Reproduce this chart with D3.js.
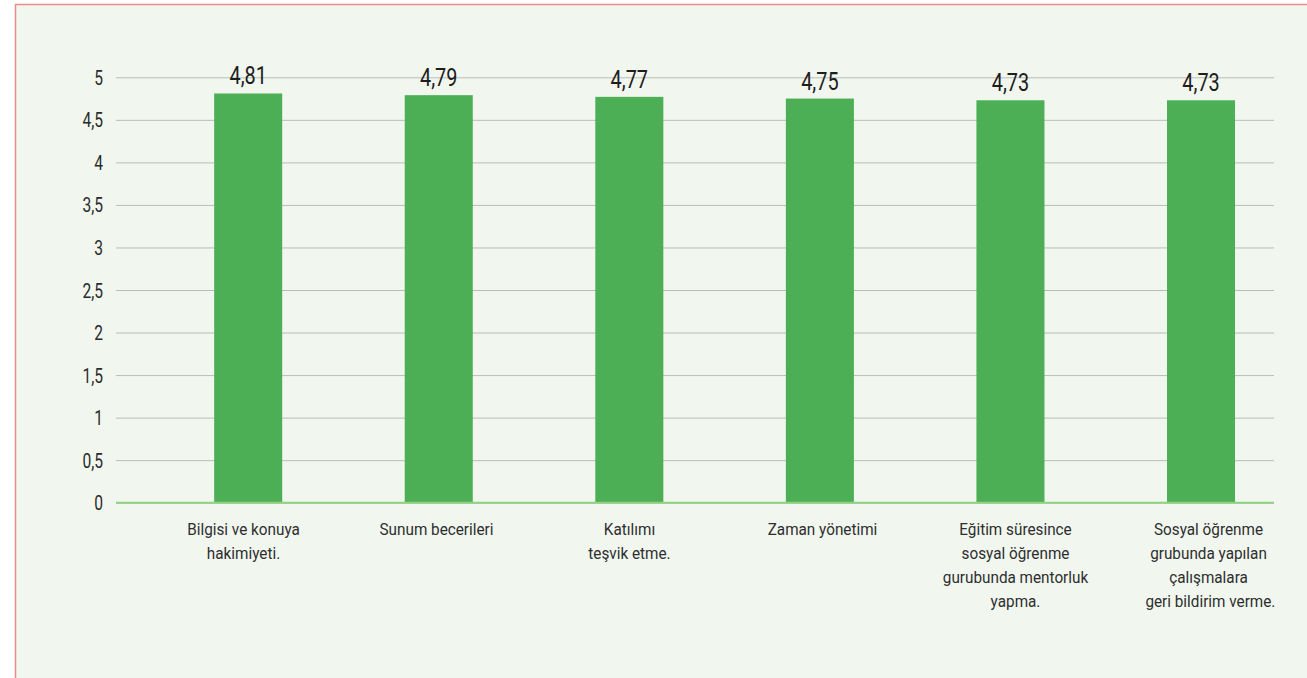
<!DOCTYPE html>
<html>
<head>
<meta charset="utf-8">
<script src="https://cdn.jsdelivr.net/npm/d3@7"></script>
<style>
  html, body { margin: 0; padding: 0; background: #ffffff; }
  svg { display: block; }
  text { font-family: "Roboto", "DejaVu Sans", sans-serif; }
</style>
</head>
<body>
<svg id="chart" width="1307" height="678"></svg>
<script>
const categories = [
  ["Bilgisi ve konuya", "hakimiyeti."],
  ["Sunum becerileri"],
  ["Katılımı", "teşvik etme."],
  ["Zaman yönetimi"],
  ["Eğitim süresince", "sosyal öğrenme", "gurubunda mentorluk", "yapma."],
  ["Sosyal öğrenme", "grubunda yapılan", "çalışmalara", " geri bildirim verme."]
];
const values = [4.81, 4.79, 4.77, 4.75, 4.73, 4.73];
const valueLabels = ["4,81", "4,79", "4,77", "4,75", "4,73", "4,73"];
const yTicks = [0, 0.5, 1, 1.5, 2, 2.5, 3, 3.5, 4, 4.5, 5];

const W = 1307, H = 678;
const svg = d3.select("#chart");

// frame
svg.append("rect").attr("x", 15).attr("y", 4).attr("width", W - 15).attr("height", H - 4)
  .attr("fill", "#f1f7ef");
svg.append("line").attr("x1", 15).attr("x2", W).attr("y1", 4.5).attr("y2", 4.5)
  .attr("stroke", "#f08a8a").attr("stroke-width", 1.5);
svg.append("line").attr("x1", 15.5).attr("x2", 15.5).attr("y1", 4).attr("y2", H)
  .attr("stroke", "#f08a8a").attr("stroke-width", 1.5);

const gridX0 = 116, gridX1 = 1274;
const y = d3.scaleLinear().domain([0, 5]).range([502.7, 77.3]);
const ids = categories.map((c, i) => i);
const x = d3.scaleBand().domain(ids).range([152.9, 1296.3]).paddingInner(0.643).paddingOuter(0.3215);
const cx = i => x(i) + x.bandwidth() / 2;
// category label positions
const xl = d3.scaleBand().domain(ids).range([147, 1305]);
const lx = i => xl(i) + xl.bandwidth() / 2;

// y axis with gridlines
const yAxis = d3.axisLeft(y)
  .tickValues(yTicks)
  .tickSize(-(gridX1 - gridX0))
  .tickPadding(13)
  .tickFormat(d => String(d).replace(".", ","));
const ga = svg.append("g").attr("transform", `translate(${gridX0},0)`).call(yAxis);
ga.select(".domain").remove();
ga.selectAll(".tick line").attr("stroke", "#b9bdb8").attr("stroke-width", 1);
ga.selectAll(".tick text").attr("fill", "#2a2a2a").attr("font-size", 19.5)
  .attr("x", 0).attr("dy", "0.36em")
  .attr("transform", "translate(-13,0) scale(0.8,1)");

// bars
svg.append("g").selectAll("rect").data(values).join("rect")
  .attr("x", (d, i) => x(i))
  .attr("width", x.bandwidth())
  .attr("y", d => y(d))
  .attr("height", d => y(0) - y(d))
  .attr("fill", "#4caf55");

// baseline
svg.append("line").attr("x1", gridX0).attr("x2", gridX1)
  .attr("y1", y(0)).attr("y2", y(0))
  .attr("stroke", "#8fd27f").attr("stroke-width", 2);

// value labels
svg.append("g").selectAll("text").data(values).join("text")
  .attr("transform", (d, i) => `translate(${cx(i)},${y(d) - 9}) scale(0.78,1)`)
  .attr("text-anchor", "middle")
  .attr("font-size", 25.5)
  .attr("fill", "#1e1e1e")
  .text((d, i) => valueLabels[i]);

// category labels
const cg = svg.append("g").selectAll("text").data(categories).join("text")
  .attr("transform", (d, i) => `translate(${lx(i)},535) scale(0.9,1)`)
  .attr("text-anchor", "middle")
  .attr("font-size", 17)
  .attr("fill", "#2e2e2e")
  .style("white-space", "pre");
cg.each(function(lines) {
  const t = d3.select(this);
  lines.forEach((ln, j) => {
    t.append("tspan").attr("x", 0).attr("y", j * 24).text(ln);
  });
});
</script>
</body>
</html>
